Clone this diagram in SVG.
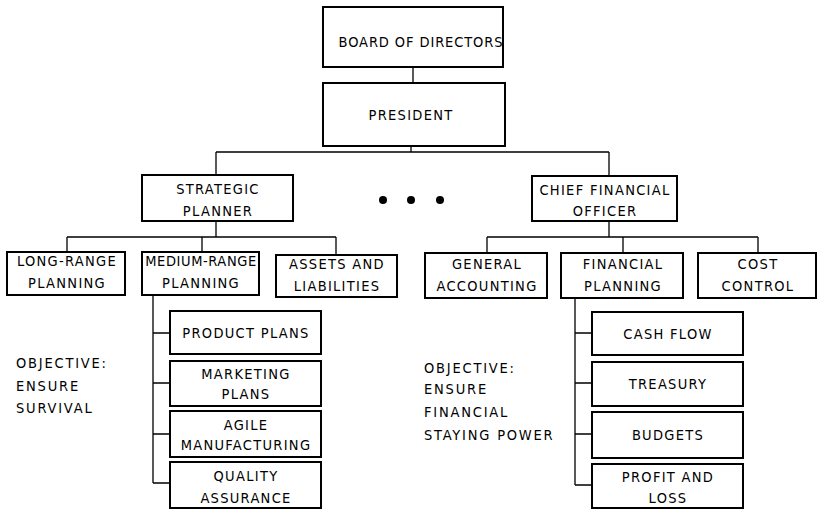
<svg xmlns="http://www.w3.org/2000/svg" width="819" height="510" viewBox="0 0 819 510">
  <style>
    .box { fill: #fff; stroke: #000; stroke-width: 2; }
    .wire { fill: none; stroke: #000; stroke-width: 1.3; }
    text { font-family: "Liberation Sans Narrow", "DejaVu Sans Condensed", "Liberation Sans", sans-serif; font-size: 14.5px; letter-spacing: 1.3px; fill: #000; }
    .c { text-anchor: middle; }
    .tight { letter-spacing: 0.6px; }
    .note { letter-spacing: 1.8px; }
  </style>
  <rect width="819" height="510" fill="#fff"/>

  <g id="connectors">
    <path class="wire" d="M413 67 V83"/>
    <path class="wire" d="M411 146 V152 M216 152 H609 M216 152 V175 M609 152 V176"/>
    <path class="wire" d="M216 221 V237 M67 237 H336 M67 237 V252 M202 237 V252 M336 237 V255"/>
    <path class="wire" d="M609 221 V237 M487 237 H758 M487 237 V253 M623 237 V253 M758 237 V253"/>
    <path class="wire" d="M153 295 V483 M153 333 H170 M153 383 H170 M153 434 H170 M153 483 H170"/>
    <path class="wire" d="M575 298 V485 M575 333 H592 M575 383 H592 M575 434 H592 M575 485 H592"/>
  </g>

  <g id="board">
    <rect class="box" x="323" y="7" width="180" height="60"/>
    <text x="421" y="47" class="c" style="letter-spacing:0.9px">BOARD OF DIRECTORS</text>
  </g>
  <g id="president">
    <rect class="box" x="323" y="83" width="182" height="63"/>
    <text x="411" y="120" class="c">PRESIDENT</text>
  </g>

  <g id="strategic-planner">
    <rect class="box" x="142" y="175" width="151" height="46"/>
    <text x="218" y="194" class="c">STRATEGIC</text>
    <text x="218" y="216" class="c">PLANNER</text>
  </g>

  <g id="ellipsis">
    <circle cx="383" cy="200" r="4"/>
    <circle cx="411" cy="200" r="4"/>
    <circle cx="440" cy="200" r="4"/>
  </g>

  <g id="cfo">
    <rect class="box" x="532" y="176" width="145" height="45"/>
    <text x="605" y="195" class="c">CHIEF FINANCIAL</text>
    <text x="605" y="216" class="c">OFFICER</text>
  </g>

  <g id="long-range">
    <rect class="box" x="7" y="252" width="118" height="43"/>
    <text x="67" y="266" class="c">LONG-RANGE</text>
    <text x="67" y="288" class="c">PLANNING</text>
  </g>
  <g id="medium-range">
    <rect class="box" x="142" y="252" width="117" height="43"/>
    <text x="201" y="266" class="c tight">MEDIUM-RANGE</text>
    <text x="201" y="288" class="c">PLANNING</text>
  </g>
  <g id="assets">
    <rect class="box" x="276" y="255" width="121" height="42"/>
    <text x="337" y="269" class="c">ASSETS AND</text>
    <text x="337" y="291" class="c">LIABILITIES</text>
  </g>

  <g id="general-accounting">
    <rect class="box" x="425" y="253" width="122" height="45"/>
    <text x="487" y="269" class="c">GENERAL</text>
    <text x="487" y="291" class="c">ACCOUNTING</text>
  </g>
  <g id="financial-planning">
    <rect class="box" x="561" y="253" width="122" height="45"/>
    <text x="623" y="269" class="c">FINANCIAL</text>
    <text x="623" y="291" class="c">PLANNING</text>
  </g>
  <g id="cost-control">
    <rect class="box" x="698" y="253" width="118" height="45"/>
    <text x="758" y="269" class="c">COST</text>
    <text x="758" y="291" class="c">CONTROL</text>
  </g>

  <g id="product-plans">
    <rect class="box" x="170" y="311" width="151" height="43"/>
    <text x="246" y="338" class="c">PRODUCT PLANS</text>
  </g>
  <g id="marketing-plans">
    <rect class="box" x="170" y="361" width="151" height="45"/>
    <text x="246" y="379" class="c">MARKETING</text>
    <text x="246" y="399" class="c">PLANS</text>
  </g>
  <g id="agile-manufacturing">
    <rect class="box" x="170" y="411" width="151" height="46"/>
    <text x="246" y="430" class="c">AGILE</text>
    <text x="246" y="450" class="c">MANUFACTURING</text>
  </g>
  <g id="quality-assurance">
    <rect class="box" x="170" y="462" width="151" height="46"/>
    <text x="246" y="481" class="c">QUALITY</text>
    <text x="246" y="503" class="c">ASSURANCE</text>
  </g>

  <g id="cash-flow">
    <rect class="box" x="592" y="312" width="151" height="43"/>
    <text x="668" y="339" class="c">CASH FLOW</text>
  </g>
  <g id="treasury">
    <rect class="box" x="592" y="362" width="151" height="44"/>
    <text x="668" y="389" class="c">TREASURY</text>
  </g>
  <g id="budgets">
    <rect class="box" x="592" y="412" width="151" height="46"/>
    <text x="668" y="440" class="c">BUDGETS</text>
  </g>
  <g id="profit-and-loss">
    <rect class="box" x="592" y="464" width="151" height="44"/>
    <text x="668" y="482" class="c">PROFIT AND</text>
    <text x="668" y="503" class="c">LOSS</text>
  </g>

  <g id="objective-survival">
    <text x="16" y="368" class="note">OBJECTIVE:</text>
    <text x="16" y="391" class="note">ENSURE</text>
    <text x="16" y="413" class="note">SURVIVAL</text>
  </g>
  <g id="objective-financial">
    <text x="424" y="373" class="note">OBJECTIVE:</text>
    <text x="424" y="394" class="note">ENSURE</text>
    <text x="424" y="417" class="note">FINANCIAL</text>
    <text x="424" y="440" class="note">STAYING POWER</text>
  </g>
</svg>
